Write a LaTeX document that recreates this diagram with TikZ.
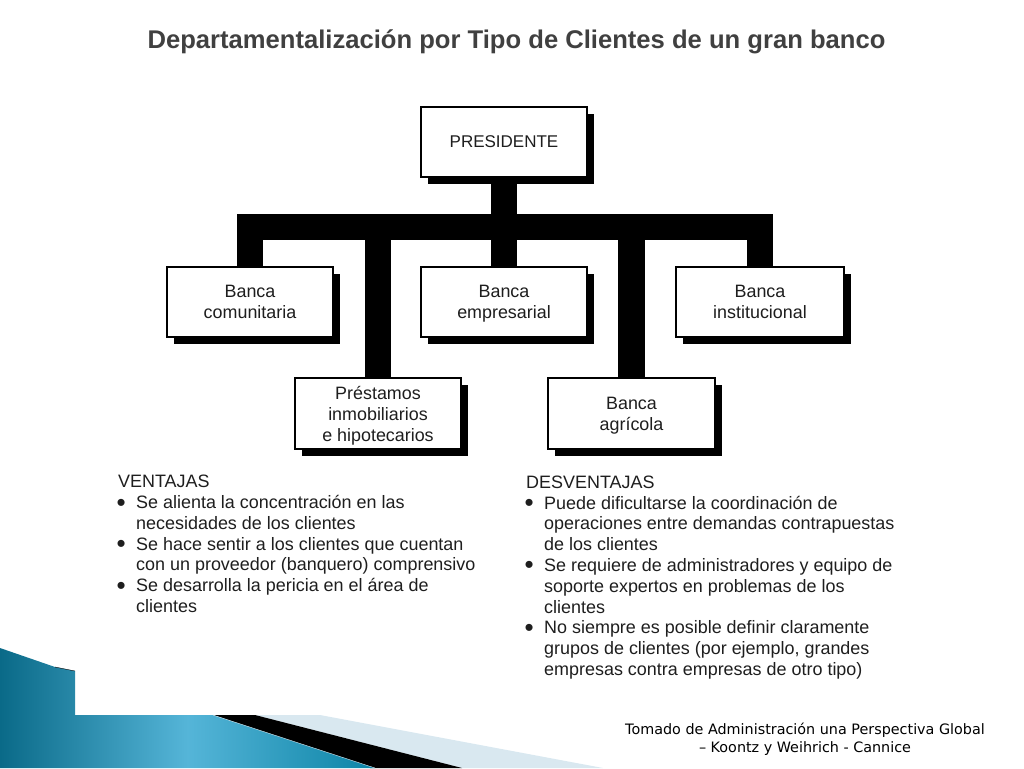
\documentclass[tikz,border=0pt]{standalone}
\usepackage{fontspec}
\setmainfont{Liberation Sans}
\newfontfamily\footfont{DejaVu Sans}
\usetikzlibrary{shadows}
\definecolor{titlegray}{HTML}{404040}
\definecolor{bodyink}{HTML}{1E1E1E}
\definecolor{tealdark}{HTML}{0A6A88}
\definecolor{teallight}{HTML}{55B5D8}
\definecolor{tealright}{HTML}{0C84A6}
\definecolor{paleblue}{HTML}{D9E8F0}
\tikzset{
  orgbox/.style={draw=black, line width=1.3pt, fill=white, minimum width=166pt, minimum height=70pt,
    align=center, text=bodyink, font=\fontsize{17.9}{21}\selectfont,
    drop shadow={shadow xshift=7pt, shadow yshift=-7pt, fill=black, opacity=1}},
  busline/.style={draw=black, line width=26.5pt},
  listtext/.style={anchor=north west, align=left, inner sep=0pt, text=bodyink, font=\fontsize{17.95}{20.8}\selectfont}
}
\newcommand{\itembullet}{\makebox[18pt][l]{\smash{\raisebox{-2.5pt}{\hspace*{-1.5pt}\fontsize{26}{26}\selectfont\textbullet}}}}
\newcommand{\itemrest}{\hspace*{18pt}}
\begin{document}
\begin{tikzpicture}[x=1pt,y=-1pt]
\useasboundingbox (0,0) rectangle (1024,768);

% esquina inferior
\fill[paleblue] (255,715) -- (320,715) -- (603,768) -- (462,768) -- cycle;
\fill[black] (213,715) -- (255,715) -- (462,768) -- (370,768) -- cycle;
\shade[left color=tealdark, right color=tealright, middle color=teallight]
  (0,648) -- (55,667) -- (75,671) -- (75,715) -- (213,715) -- (375,768) -- (0,768) -- cycle;
\draw[black, thin] (55,667) -- (75,671);
\draw[paleblue, thin] (213,715) -- (375,768);

\node[font=\fontsize{25.6}{28}\selectfont\bfseries, text=titlegray, inner sep=0pt] (titulo) at (516.5,41.5) {Departamentalización por Tipo de Clientes de un gran banco};

% las cajas
\node[orgbox] (presidente) at (504,142) {\fontsize{17}{21}\selectfont PRESIDENTE};
\node[orgbox] (comunitaria) at (250,302) {Banca\\comunitaria};
\node[orgbox] (empresarial) at (504,302) {Banca\\\smash{empresarial}};
\node[orgbox, minimum width=168pt] (institucional) at (760,302) {Banca\\institucional};
\node[orgbox, minimum height=71pt] (prestamos) at (378,413.5) {Préstamos\\inmobiliarios\\\smash{e hipotecarios}};
\node[orgbox, minimum width=167pt, minimum height=71pt] (agricola) at (631.5,413.5) {Banca\\\smash{agrícola}};

% la barra
\coordinate (bar) at (504,227);
\draw[busline] (presidente.south) -- (empresarial.north);
\draw[busline] (comunitaria.north) |- (bar) -| (institucional.north);
\draw[busline] (prestamos.north) -- (prestamos.north |- bar);
\draw[busline] (agricola.north) -- (agricola.north |- bar);

\node[listtext] (ventajas) at (118,475) {VENTAJAS\\
\itembullet Se alienta la concentración en las\\
\itemrest necesidades de los clientes\\
\itembullet Se hace sentir a los clientes que cuentan\\
\itemrest con un proveedor (banquero) comprensivo\\
\itembullet Se desarrolla la pericia en el área de\\
\itemrest clientes};

\node[listtext] (desventajas) at (526,475.5) {DESVENTAJAS\\
\itembullet Puede dificultarse la coordinación de\\
\itemrest operaciones entre demandas contrapuestas\\
\itemrest de los clientes\\
\itembullet Se requiere de administradores y equipo de\\
\itemrest soporte expertos en problemas de los\\
\itemrest clientes\\
\itembullet No siempre es posible definir claramente\\
\itemrest grupos de clientes (por ejemplo, grandes\\
\itemrest empresas contra empresas de otro tipo)};

\node[font=\footfont\fontsize{14.35}{18}\selectfont, align=center, text=black, inner sep=0pt] (fuente) at (805,739)
  {Tomado de Administración una Perspectiva Global\\– Koontz y Weihrich - Cannice};

\end{tikzpicture}
\end{document}
